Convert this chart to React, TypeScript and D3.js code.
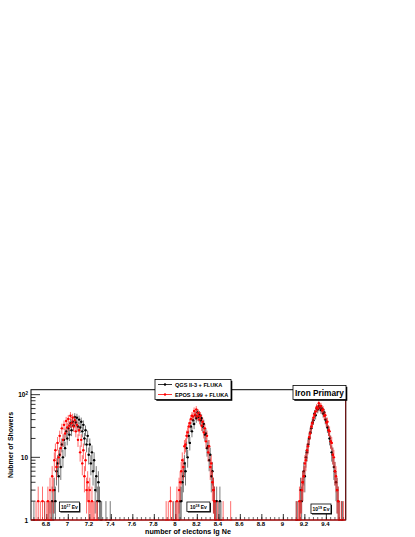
import React, { useEffect, useRef } from "react";
import * as d3 from "d3";

const binWidth = 0.01;

// QGSJET II-3 + FLUKA (black), counts per 0.01 bin of lg Ne
const qgsStarts = [6.82, 8.03, 9.15];
const qgs17 = [1, 0, 1, 2, 1, 3, 2, 6, 8, 5, 11, 7, 16, 10, 19, 14, 26, 20, 29, 23, 35, 27, 37, 32, 44, 36, 43, 31, 40, 30, 37, 26, 33, 20, 27, 16, 22, 11, 16, 8, 12, 6, 9, 3, 5, 2, 4, 2, 1, 1];
const qgs18 = [1, 2, 2, 4, 5, 8, 6, 14, 10, 22, 17, 31, 26, 39, 34, 47, 42, 52, 44, 48, 39, 42, 31, 34, 23, 24, 14, 15, 9, 11, 5, 6, 3, 2, 1, 2];
const qgs19 = [1, 3, 2, 4, 6, 5, 10, 12, 16, 20, 25, 29, 36, 39, 50, 47, 60, 58, 66, 62, 57, 60, 50, 52, 40, 37, 30, 27, 20, 18, 12, 11, 7, 6, 4, 3, 2, 1];
const qgsTailLg = [6.68, 6.78, 7.35, 7.39, 7.98, 8.0, 8.4, 8.41, 8.42, 9.12, 9.13, 9.54, 9.55];
const qgsTailN = [1, 1, 1, 1, 1, 1, 1, 2, 1, 1, 1, 1, 1];

// EPOS 1.99 + FLUKA (red)
const eposStarts = [6.8, 8.0, 9.14];
const epos17 = [1, 2, 1, 3, 1, 5, 3, 9, 13, 7, 17, 10, 22, 14, 29, 19, 33, 24, 38, 30, 41, 32, 46, 35, 43, 31, 39, 26, 33, 19, 27, 12, 19, 8, 13, 5, 9, 3, 4, 2, 3, 1, 2, 1, 1];
const epos18 = [1, 2, 1, 3, 4, 6, 9, 7, 15, 16, 22, 25, 31, 35, 41, 46, 45, 55, 48, 58, 45, 51, 40, 46, 32, 37, 25, 29, 18, 22, 12, 15, 7, 8, 4, 3, 2, 1];
const epos19 = [1, 2, 1, 3, 4, 5, 8, 9, 13, 15, 21, 24, 31, 35, 43, 48, 54, 63, 60, 73, 65, 66, 56, 58, 46, 47, 36, 37, 27, 26, 18, 17, 11, 10, 6, 5, 3, 2, 1];
const eposTailLg = [6.7, 6.72, 6.74, 6.76, 6.78, 7.26, 7.27, 7.91, 7.93, 7.95, 7.97, 8.39, 8.44, 8.51, 9.12, 9.54, 9.56];
const eposTailN = [1, 2, 1, 2, 1, 1, 1, 1, 1, 2, 1, 1, 1, 1, 1, 1, 1];

const xTicks = [6.8, 7, 7.2, 7.4, 7.6, 7.8, 8, 8.2, 8.4, 8.6, 8.8, 9, 9.2, 9.4];
const energyLabels = [
  { lg: 7.01, exp: "17", y: 502, w: 20 },
  { lg: 8.21, exp: "18", y: 502, w: 23 },
  { lg: 9.35, exp: "19", y: 504, w: 20 },
];

function toPoints(starts: number[], peaks: number[][], tailLg: number[], tailN: number[]) {
  const pts: { lg: number; n: number }[] = [];
  peaks.forEach((counts, k) => {
    counts.forEach((n, i) => pts.push({ lg: starts[k] + i * binWidth, n }));
  });
  tailLg.forEach((lg, i) => pts.push({ lg, n: tailN[i] }));
  return pts.filter((p) => p.n > 0);
}

function App() {
  const svgRef = useRef<SVGSVGElement>(null);

  useEffect(() => {
    const w = 415;
    const h = 537;
    const left = 31;
    const right = 345.7;
    const top = 389.7;
    const bottom = 520;
    const font = "Liberation Sans, Arial, Helvetica, sans-serif";

    const svg = d3.select(svgRef.current).attr("width", w).attr("height", h);
    svg.selectAll("*").remove();

    const x = d3.scaleLinear().domain([6.653, 9.58]).range([left, right]);
    const y = d3.scaleLog().domain([1, 120]).range([bottom, top]);

    // frame
    svg
      .append("rect")
      .attr("x", left)
      .attr("y", top)
      .attr("width", right - left)
      .attr("height", bottom - top)
      .attr("fill", "none")
      .attr("stroke", "#000")
      .attr("stroke-width", 1);

    // y ticks (log)
    const yTicks = d3.range(1, 10).concat(d3.range(10, 100, 10)).concat([100]);
    yTicks.forEach((t) => {
      const major = t === 1 || t === 10 || t === 100;
      svg
        .append("line")
        .attr("x1", left)
        .attr("x2", left + (major ? 9 : 4.5))
        .attr("y1", y(t))
        .attr("y2", y(t))
        .attr("stroke", "#000")
        .attr("stroke-width", 0.8);
    });
    const yl = svg
      .append("g")
      .attr("font-family", font)
      .attr("font-weight", "bold")
      .attr("font-size", 6.5)
      .attr("text-anchor", "end");
    yl.append("text").attr("x", 28).attr("y", y(1) + 2.5).text("1");
    yl.append("text").attr("x", 28).attr("y", y(10) + 2.5).text("10");
    const t100 = yl.append("text").attr("x", 28).attr("y", y(100) + 2.5);
    t100.append("tspan").text("10");
    t100.append("tspan").attr("dy", -2.5).attr("font-size", 4.5).text("2");

    // x ticks
    const minor = d3.range(6.68, 9.58, 0.04);
    minor.forEach((t) => {
      svg
        .append("line")
        .attr("x1", x(t))
        .attr("x2", x(t))
        .attr("y1", bottom)
        .attr("y2", bottom - 3)
        .attr("stroke", "#000")
        .attr("stroke-width", 0.6);
    });
    xTicks.forEach((t) => {
      svg
        .append("line")
        .attr("x1", x(t))
        .attr("x2", x(t))
        .attr("y1", bottom)
        .attr("y2", bottom - 6)
        .attr("stroke", "#000")
        .attr("stroke-width", 0.8);
      svg
        .append("text")
        .attr("x", x(t) - 1)
        .attr("y", 526.3)
        .attr("font-family", font)
        .attr("font-weight", "bold")
        .attr("font-size", 6)
        .attr("text-anchor", "middle")
        .text(String(t));
    });

    // axis titles
    svg
      .append("text")
      .attr("x", 188)
      .attr("y", 533.8)
      .attr("font-family", font)
      .attr("font-weight", "bold")
      .attr("font-size", 7.2)
      .attr("fill", "#000")
      .attr("text-anchor", "middle")
      .text("number of electons lg Ne");
    svg
      .append("text")
      .attr("transform", "translate(12.5,445) rotate(-90)")
      .attr("font-family", font)
      .attr("font-weight", "bold")
      .attr("font-size", 7)
      .attr("text-anchor", "middle")
      .text("Nubmer of Showers");

    // data
    const series = [
      { color: "#000", bar: "#333", pts: toPoints(qgsStarts, [qgs17, qgs18, qgs19], qgsTailLg, qgsTailN) },
      { color: "#ff0000", bar: "#ff2020", pts: toPoints(eposStarts, [epos17, epos18, epos19], eposTailLg, eposTailN) },
    ];
    const yMin = 1;
    series.forEach((s) => {
      const g = svg.append("g");
      g.selectAll("line.err")
        .data(s.pts)
        .join("line")
        .attr("x1", (d) => x(d.lg))
        .attr("x2", (d) => x(d.lg))
        .attr("y1", (d) => y(Math.max(yMin, d.n - Math.sqrt(d.n))))
        .attr("y2", (d) => y(d.n + Math.sqrt(d.n)))
        .attr("stroke", s.bar)
        .attr("stroke-width", 1)
        .attr("opacity", 0.65);
      g.selectAll("line.h")
        .data(s.pts)
        .join("line")
        .attr("x1", (d) => x(d.lg - binWidth / 2) - 0.5)
        .attr("x2", (d) => x(d.lg + binWidth / 2) + 0.5)
        .attr("y1", (d) => y(d.n))
        .attr("y2", (d) => y(d.n))
        .attr("stroke", s.color)
        .attr("stroke-width", 0.8);
      g.selectAll("circle")
        .data(s.pts.filter((d) => d.n > 1))
        .join("circle")
        .attr("cx", (d) => x(d.lg))
        .attr("cy", (d) => y(d.n))
        .attr("r", 1.2)
        .attr("fill", s.color);
    });

    // red baseline of the EPOS histogram
    svg
      .append("line")
      .attr("x1", left)
      .attr("x2", right)
      .attr("y1", bottom)
      .attr("y2", bottom)
      .attr("stroke", "#e00000")
      .attr("stroke-width", 1);
    svg
      .append("line")
      .attr("x1", right)
      .attr("x2", right)
      .attr("y1", top)
      .attr("y2", bottom)
      .attr("stroke", "#7a1010")
      .attr("stroke-width", 1);

    // box helper with ROOT-like shadow
    const box = (bx: number, by: number, bw: number, bh: number, sh: number) => {
      svg.append("rect").attr("x", bx + sh).attr("y", by + sh).attr("width", bw).attr("height", bh).attr("fill", "#000");
      svg
        .append("rect")
        .attr("x", bx)
        .attr("y", by)
        .attr("width", bw)
        .attr("height", bh)
        .attr("fill", "#fff")
        .attr("stroke", "#000")
        .attr("stroke-width", 0.8);
    };

    // legend
    box(155, 379.5, 76, 20, 1.3);
    const legend = [
      { label: "QGS II-3 + FLUKA", color: "#000", yy: 384.5 },
      { label: "EPOS 1.99 + FLUKA", color: "#ff0000", yy: 394.5 },
    ];
    legend.forEach((l) => {
      svg.append("line").attr("x1", 158).attr("x2", 172).attr("y1", l.yy).attr("y2", l.yy).attr("stroke", l.color).attr("stroke-width", 0.8);
      svg.append("circle").attr("cx", 165).attr("cy", l.yy).attr("r", 1.2).attr("fill", l.color);
      svg
        .append("text")
        .attr("x", 175)
        .attr("y", l.yy + 2)
        .attr("font-family", font)
        .attr("font-weight", "bold")
        .attr("font-size", 5.6)
        .text(l.label);
    });

    // title box
    box(293, 385.5, 53, 14, 1.3);
    svg
      .append("text")
      .attr("x", 319.5)
      .attr("y", 395.8)
      .attr("font-family", font)
      .attr("font-weight", "bold")
      .attr("font-size", 8.3)
      .attr("text-anchor", "middle")
      .text("Iron Primary");

    // energy labels
    energyLabels.forEach((e) => {
      const cx = x(e.lg);
      box(cx - e.w / 2, e.y, e.w, 9.5, 1);
      const t = svg
        .append("text")
        .attr("x", cx)
        .attr("y", e.y + 7)
        .attr("font-family", font)
        .attr("font-weight", "bold")
        .attr("font-size", 5)
        .attr("text-anchor", "middle");
      t.append("tspan").text("10");
      t.append("tspan").attr("dy", -2).attr("font-size", 3.5).text(e.exp);
      t.append("tspan").attr("dy", 2).text(" Ev");
    });
  }, []);

  return (
    <div>
      <svg ref={svgRef} style={{ position: "absolute", left: 0, top: 0 }}></svg>
    </div>
  );
}

export default App;
